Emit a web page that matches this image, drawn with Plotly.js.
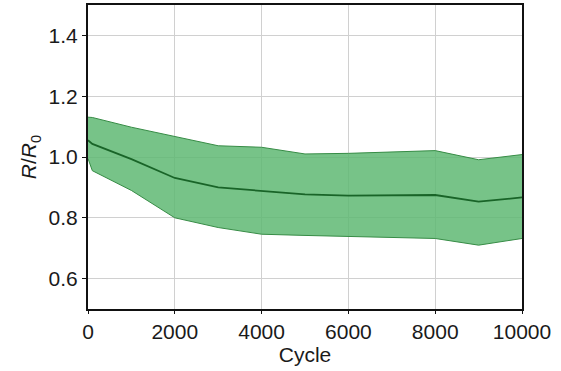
<!DOCTYPE html>
<html>
<head>
<meta charset="utf-8">
<script src="https://cdn.plot.ly/plotly-3.0.1.min.js"></script>
<style>html,body{margin:0;padding:0;background:#fff;}#chart{width:561px;height:371px;}</style>
</head>
<body>
<div id="chart"></div>
<script>
const cycles = [0, 100, 1000, 2000, 3000, 4000, 5000, 6000, 7000, 8000, 9000, 10000];
const meanRatio = [1.055, 1.043, 0.993, 0.931, 0.900, 0.889, 0.877, 0.873, 0.874, 0.875, 0.853, 0.867];
const upperRatio = [1.131, 1.130, 1.098, 1.068, 1.037, 1.032, 1.010, 1.012, 1.016, 1.021, 0.991, 1.008];
const lowerRatio = [0.995, 0.955, 0.890, 0.800, 0.768, 0.746, 0.742, 0.739, 0.736, 0.732, 0.710, 0.732];
const xTicks = [0, 2000, 4000, 6000, 8000, 10000];
const yTicks = [0.6, 0.8, 1.0, 1.2, 1.4];

const edge = 'rgb(55,140,70)';
const traces = [
  {x: cycles, y: lowerRatio, mode: 'lines', line: {color: edge, width: 1}, hoverinfo: 'skip', showlegend: false},
  {x: cycles, y: upperRatio, mode: 'lines', fill: 'tonexty', fillcolor: 'rgba(95,185,115,0.85)', line: {color: edge, width: 1}, showlegend: false},
  {x: cycles, y: meanRatio, mode: 'lines', line: {color: 'rgb(25,100,40)', width: 1.8}, showlegend: false}
];
const font = {family: 'Liberation Sans, Arial, sans-serif', size: 21, color: '#1a1a1a'};
const layout = {
  width: 561, height: 371,
  margin: {l: 88, r: 39, t: 5, b: 62},
  paper_bgcolor: '#fff', plot_bgcolor: '#fff',
  font: font,
  xaxis: {
    range: [0, 10000], tickvals: xTicks, ticktext: xTicks.map(String),
    showgrid: true, gridcolor: '#d0d0d0', gridwidth: 1,
    showline: true, linecolor: '#111', linewidth: 2, mirror: true,
    ticks: 'outside', ticklen: 3, tickcolor: '#111', zeroline: false,
    tickfont: font,
    title: {text: 'Cycle', font: font, standoff: 4}
  },
  yaxis: {
    range: [0.5, 1.5], tickvals: yTicks, ticktext: yTicks.map(v => v.toFixed(1)),
    showgrid: true, gridcolor: '#d0d0d0', gridwidth: 1,
    showline: true, linecolor: '#111', linewidth: 2, mirror: true,
    ticks: 'outside', ticklen: 4, tickcolor: '#111', zeroline: false,
    tickfont: font,
    title: {text: '<i>R</i>/<i>R</i><sub>0</sub>', font: font, standoff: 6}
  }
};
Plotly.newPlot('chart', traces, layout, {displayModeBar: false, staticPlot: true});
</script>
</body>
</html>
